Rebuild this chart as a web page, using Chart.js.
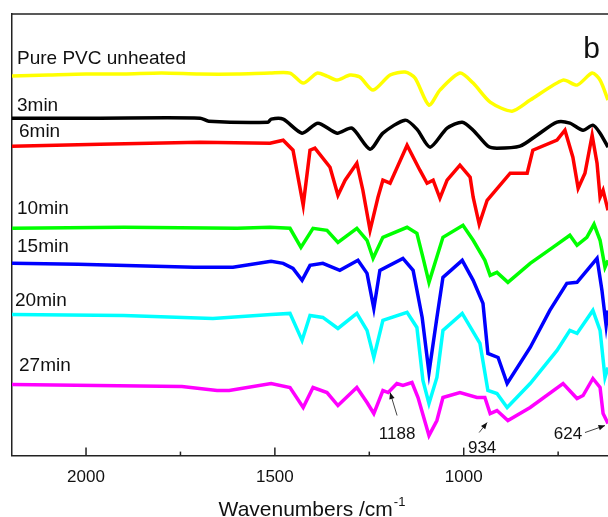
<!DOCTYPE html>
<html>
<head>
<meta charset="utf-8">
<script src="https://cdn.jsdelivr.net/npm/chart.js@4.4.0/dist/chart.umd.min.js"></script>
<style>
html, body { margin: 0; padding: 0; background: #fff; overflow: hidden; }
#wrap { width: 608px; height: 517px; }
</style>
</head>
<body>
<div id="wrap"><canvas id="ftir" width="608" height="517"></canvas></div>
<script>
// series names and colours
const seriesNames = ['Pure PVC unheated', '3min', '6min', '10min', '15min', '20min', '27min'];
const seriesColors = ['#ffff00', '#000000', '#ff0000', '#00ff00', '#0000ff', '#00ffff', '#ff00ff'];

// wavenumbers (cm-1) and stacked absorbance (arb. units) for each spectrum
const pureWn = [2196, 2100, 2000, 1900, 1800, 1700, 1600, 1513, 1460, 1425, 1388, 1362, 1335, 1301, 1275, 1240, 1195, 1155, 1129, 1092, 1063, 1010, 975, 930, 872, 824, 737, 700, 660, 639, 618];
const pureVal = [379, 380, 381, 381, 382, 381, 381, 382, 382, 372, 382, 379, 375, 380, 378, 365, 380, 383, 377, 350, 365, 382, 372, 353, 344, 355, 375, 370, 382, 375, 355];

const min3Wn = [2196, 1963, 1698, 1675, 1518, 1510, 1478, 1428, 1386, 1335, 1296, 1248, 1214, 1155, 1124, 1089, 1044, 1004, 975, 936, 912, 851, 806, 753, 719, 684, 658, 639, 618];
const min3Val = [337, 337, 337, 334, 333, 336, 336, 322, 332, 322, 327, 306, 322, 335, 326, 308, 327, 333, 325, 309, 307, 309, 320, 333, 332, 325, 330, 322, 308];

const min6Wn = [2196, 1963, 1698, 1513, 1478, 1452, 1425, 1407, 1394, 1354, 1333, 1314, 1283, 1267, 1248, 1227, 1214, 1195, 1150, 1116, 1097, 1081, 1063, 1044, 1010, 983, 975, 959, 938, 877, 832, 817, 753, 732, 711, 697, 679, 660, 647, 639, 631, 618];
const min6Val = [309, 311, 313, 312, 315, 305, 250, 305, 307, 288, 260, 275, 292, 265, 225, 258, 275, 272, 310, 285, 272, 275, 257, 275, 290, 278, 258, 231, 255, 282, 282, 305, 315, 325, 298, 267, 282, 320, 292, 258, 265, 245];

const min10Wn = [2196, 1900, 1600, 1513, 1460, 1431, 1399, 1362, 1333, 1283, 1256, 1240, 1214, 1150, 1124, 1108, 1092, 1055, 1002, 975, 944, 930, 912, 883, 824, 764, 719, 700, 674, 655, 639, 626, 618];
const min10Val = [227, 228, 227, 228, 227, 208, 227, 225, 213, 227, 215, 197, 218, 228, 222, 198, 173, 218, 230, 215, 195, 180, 183, 173, 192, 208, 220, 210, 218, 231, 215, 188, 195];

const min15Wn = [2196, 2021, 1714, 1611, 1510, 1478, 1452, 1428, 1407, 1373, 1328, 1280, 1256, 1238, 1222, 1161, 1134, 1110, 1092, 1071, 1055, 1004, 975, 949, 936, 909, 885, 824, 772, 727, 700, 647, 634, 623, 618];
const min15Val = [192, 191, 188, 188, 194, 192, 187, 175, 190, 192, 185, 195, 182, 147, 185, 197, 185, 138, 83, 138, 178, 195, 175, 152, 102, 98, 72, 108, 145, 172, 173, 197, 165, 130, 145];

const min20Wn = [2196, 1900, 1664, 1510, 1460, 1428, 1407, 1373, 1333, 1283, 1256, 1238, 1214, 1150, 1124, 1108, 1092, 1071, 1055, 1004, 957, 936, 912, 885, 824, 753, 719, 700, 658, 639, 626, 618];
const min20Val = [141, 140, 137, 141, 142, 115, 140, 138, 127, 142, 125, 98, 135, 143, 128, 75, 52, 78, 125, 142, 112, 65, 62, 48, 72, 105, 125, 122, 145, 125, 78, 88];

const min27Wn = [2196, 1746, 1653, 1621, 1510, 1460, 1425, 1399, 1362, 1333, 1283, 1256, 1238, 1214, 1200, 1177, 1161, 1137, 1121, 1092, 1071, 1055, 1010, 965, 944, 930, 912, 883, 824, 737, 700, 684, 658, 639, 631, 618];
const min27Val = [71, 69, 65, 65, 72, 68, 48, 68, 63, 50, 68, 53, 42, 65, 63, 72, 70, 73, 58, 20, 35, 58, 63, 58, 58, 42, 45, 35, 48, 72, 57, 60, 77, 68, 42, 32];

// axis ticks
const majorTicks = [2000, 1500, 1000];
const minorTicks = [1750, 1250, 750];

// marked peaks
const peakLabels = ['1188', '934', '624'];

const spectra = [
  [pureWn, pureVal], [min3Wn, min3Val], [min6Wn, min6Val], [min10Wn, min10Val],
  [min15Wn, min15Val], [min20Wn, min20Val], [min27Wn, min27Val]
];

const FONT = '"Liberation Sans", Arial, sans-serif';

// where each curve name sits: [offset from left edge px, baseline value]
const nameAt = [[5, 391], [5, 344], [7, 318], [5, 241], [5, 203], [3, 149], [7, 84]];
// arrow tip (wavenumber, value) with tail and text offsets in px
const peakAt = [
  { wn: 1195, val: 63, tail: [7, 23], txt: [7, 46] },
  { wn: 938, val: 33, tail: [-8, 10], txt: [-5, 30] },
  { wn: 626, val: 30, tail: [-20, 7], txt: [-37, 13] }
];

const decor = {
  id: 'decor',
  afterDraw(chart) {
    const ctx = chart.ctx;
    const a = chart.chartArea;
    const x = chart.scales.x, y = chart.scales.y;
    ctx.save();
    ctx.strokeStyle = '#222';
    ctx.lineWidth = 1.5;
    ctx.beginPath();
    ctx.moveTo(a.left, a.top);
    ctx.lineTo(a.right, a.top);
    ctx.stroke();

    // inward tick marks
    majorTicks.forEach(v => {
      const px = x.getPixelForValue(v);
      ctx.beginPath(); ctx.moveTo(px, a.bottom); ctx.lineTo(px, a.bottom - 8); ctx.stroke();
    });
    minorTicks.forEach(v => {
      const px = x.getPixelForValue(v);
      ctx.beginPath(); ctx.moveTo(px, a.bottom); ctx.lineTo(px, a.bottom - 4); ctx.stroke();
    });

    // curve names
    ctx.fillStyle = '#111';
    ctx.font = '19px ' + FONT;
    ctx.textAlign = 'left';
    ctx.textBaseline = 'alphabetic';
    seriesNames.forEach((n, i) => {
      ctx.fillText(n, a.left + nameAt[i][0], y.getPixelForValue(nameAt[i][1]));
    });

    // panel letter
    ctx.font = '30px ' + FONT;
    ctx.textAlign = 'right';
    ctx.fillText('b', a.right - 8, a.top + 44);

    // axis title with superscript
    ctx.font = '21px ' + FONT;
    const main = 'Wavenumbers /cm';
    ctx.textAlign = 'left';
    const w1 = ctx.measureText(main).width;
    ctx.font = '13px ' + FONT;
    const w2 = ctx.measureText('-1').width;
    const cx = (a.left + a.right) / 2 + 2;
    const tx0 = cx - (w1 + w2 + 1) / 2;
    const base = a.bottom + 60;
    ctx.font = '21px ' + FONT;
    ctx.fillText(main, tx0, base);
    ctx.font = '13px ' + FONT;
    ctx.fillText('-1', tx0 + w1 + 1, base - 10);

    // peak arrows
    ctx.font = '17px ' + FONT;
    ctx.textAlign = 'center';
    peakLabels.forEach((t, i) => {
      const p = peakAt[i];
      const tx = x.getPixelForValue(p.wn), ty = y.getPixelForValue(p.val);
      const sx = tx + p.tail[0], sy = ty + p.tail[1];
      ctx.strokeStyle = '#444';
      ctx.lineWidth = 1;
      ctx.beginPath(); ctx.moveTo(sx, sy); ctx.lineTo(tx, ty); ctx.stroke();
      const ang = Math.atan2(ty - sy, tx - sx);
      ctx.fillStyle = '#111';
      ctx.beginPath();
      ctx.moveTo(tx, ty);
      ctx.lineTo(tx - 7 * Math.cos(ang - 0.4), ty - 7 * Math.sin(ang - 0.4));
      ctx.lineTo(tx - 7 * Math.cos(ang + 0.4), ty - 7 * Math.sin(ang + 0.4));
      ctx.closePath();
      ctx.fill();
      ctx.fillText(t, tx + p.txt[0], ty + p.txt[1]);
    });
    ctx.restore();
  }
};

try {
  const datasets = spectra.map((s, i) => ({
    label: seriesNames[i],
    data: s[0].map((w, k) => ({ x: w, y: s[1][k] })),
    borderColor: seriesColors[i],
    borderWidth: 3.5,
    pointRadius: 0,
    tension: i < 2 ? 0.25 : 0,
    fill: false
  }));

  new Chart(document.getElementById('ftir'), {
    type: 'line',
    data: { datasets: datasets },
    options: {
      responsive: false,
      animation: false,
      devicePixelRatio: 1,
      layout: { padding: { left: 12, top: 14, right: 0, bottom: 17 } },
      plugins: { legend: { display: false }, tooltip: { enabled: false } },
      scales: {
        x: {
          type: 'linear',
          reverse: true,
          min: 618,
          max: 2196,
          afterBuildTicks: s => { s.ticks = majorTicks.map(v => ({ value: v })); },
          grid: { display: false, drawTicks: false },
          border: { display: true, color: '#222', width: 1.5 },
          ticks: {
            color: '#111',
            padding: 12,
            font: { family: FONT, size: 17 },
            callback: v => String(v)
          }
        },
        y: {
          min: 0,
          max: 441,
          grid: { display: false, drawTicks: false },
          border: { display: true, color: '#222', width: 1.5 },
          ticks: { display: false }
        }
      }
    },
    plugins: [decor]
  });
} catch (error) {
  console.log(error);
}
</script>
</body>
</html>
